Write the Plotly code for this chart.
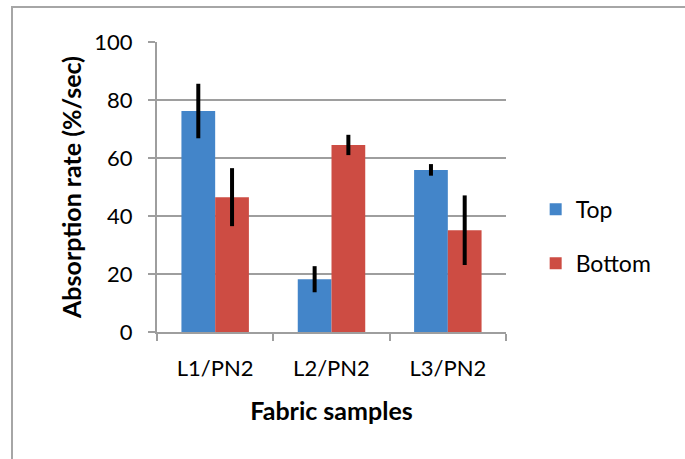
import plotly.graph_objects as go

# Absorption rate per fabric sample, top and bottom face
samples = ["L1/PN2", "L2/PN2", "L3/PN2"]
top_rate = [76.2, 18.2, 55.9]
top_err = [9.4, 4.5, 2.0]
bottom_rate = [46.5, 64.5, 35.1]
bottom_err = [10.0, 3.5, 12.0]

FONT = "Lato"
GRID = "#9e9e9e"
W, H = 685, 459
ML, MR, MT, MB = 157, 179, 42, 127
PW, PH = W - ML - MR, H - MT - MB

fig = go.Figure()
fig.add_trace(go.Bar(
    name="Top", x=samples, y=top_rate, legendgroup="top",
    marker=dict(color="#4385c9", line=dict(width=0)),
    error_y=dict(type="data", array=top_err, color="black", thickness=4, width=0),
))
fig.add_trace(go.Bar(
    name="Bottom", x=samples, y=bottom_rate, legendgroup="bottom",
    marker=dict(color="#cd4c43", line=dict(width=0)),
    error_y=dict(type="data", array=bottom_err, color="black", thickness=4, width=0),
))

# outer chart frame (runs off the right and bottom of the page)
fig.add_shape(
    type="rect", xref="paper", yref="paper",
    x0=(12 - ML) / PW, x1=2, y0=-2, y1=(H - 7 - MB) / PH,
    line=dict(color="#a6a6a6", width=2), fillcolor="rgba(0,0,0,0)", layer="below",
)

fig.update_layout(
    width=W, height=H,
    margin=dict(l=ML, r=MR, t=MT, b=MB, pad=0),
    paper_bgcolor="white", plot_bgcolor="white",
    barmode="group", bargap=0.42, bargroupgap=0,
    font=dict(family=FONT, size=22, color="black"),
    legend=dict(
        x=1.085, y=0.33, xanchor="left", yanchor="middle",
        font=dict(family=FONT, size=23), tracegroupgap=21,
        itemwidth=30, bgcolor="rgba(0,0,0,0)",
    ),
    showlegend=True,
)
fig.update_xaxes(
    type="category", tickson="boundaries", ticks="outside", ticklen=7,
    tickcolor=GRID, tickwidth=2, showline=True, linecolor=GRID, linewidth=2,
    showgrid=False, tickfont=dict(family=FONT, size=22), ticklabelstandoff=16,
    title=dict(text="<b>Fabric samples</b>", font=dict(family=FONT, size=25), standoff=22),
)
fig.update_yaxes(
    range=[0, 100], dtick=20, ticks="outside", ticklen=7,
    tickcolor=GRID, tickwidth=2, showline=True, linecolor=GRID, linewidth=2,
    showgrid=True, gridcolor=GRID, gridwidth=2, zeroline=False,
    tickfont=dict(family=FONT, size=22), ticklabelstandoff=11,
    title=dict(text="<b>Absorption rate (%/sec)</b>", font=dict(family=FONT, size=25), standoff=6),
)

fig.write_html("out.html")
